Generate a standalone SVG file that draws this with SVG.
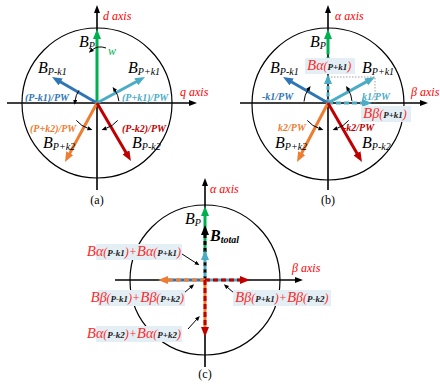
<svg xmlns="http://www.w3.org/2000/svg" width="440" height="386" viewBox="0 0 440 386">
<style>
.bg{fill:#fff}
.circ{fill:none;stroke:#000;stroke-width:1.2}
.axis{stroke:#000;stroke-width:1.6;fill:none}
.vec{stroke-width:3;fill:none}
.g{stroke:#00b050}.b{stroke:#2e75b6}.lb{stroke:#4bacc6}.o{stroke:#ed7d31}.r{stroke:#c00000}.k{stroke:#000}
.rot{stroke:#000;stroke-width:1;fill:none}
.dot{stroke:#777;stroke-width:0.7;stroke-dasharray:1.5 1.5;fill:none}
text{font-family:"Liberation Serif","Times New Roman",serif;font-style:italic}
.ax{fill:#ff0000;font-size:12px}
.B{font-size:16px;fill:#000}
.s{font-size:10px}
.rl{font-size:10px;font-weight:bold}
.cb{fill:#2e75b6}.clb{fill:#4bacc6}.co{fill:#ed7d31}.cr{fill:#c00000}.cg{fill:#00b050}
.cap{font-style:normal;font-size:12px;fill:#000;text-anchor:middle}
.hl{fill:#e3eff5}
.cl{fill:#ff2a2a}
.cB{font-size:15px}
.cG{font-size:14px}
.cP{font-size:12px}
.cS{font-size:9px;font-weight:bold;fill:#1a1a1a}
</style>
<defs>
<marker id="mg" viewBox="0 0 10 8" refX="1" refY="4" markerWidth="10" markerHeight="8" markerUnits="userSpaceOnUse" orient="auto"><path d="M0,0L10,4L0,8z" fill="#00b050"/></marker>
<marker id="mb" viewBox="0 0 10 8" refX="1" refY="4" markerWidth="10" markerHeight="8" markerUnits="userSpaceOnUse" orient="auto"><path d="M0,0L10,4L0,8z" fill="#2e75b6"/></marker>
<marker id="mlb" viewBox="0 0 10 8" refX="1" refY="4" markerWidth="10" markerHeight="8" markerUnits="userSpaceOnUse" orient="auto"><path d="M0,0L10,4L0,8z" fill="#4bacc6"/></marker>
<marker id="mo" viewBox="0 0 10 8" refX="1" refY="4" markerWidth="10" markerHeight="8" markerUnits="userSpaceOnUse" orient="auto"><path d="M0,0L10,4L0,8z" fill="#ed7d31"/></marker>
<marker id="mr" viewBox="0 0 10 8" refX="1" refY="4" markerWidth="10" markerHeight="8" markerUnits="userSpaceOnUse" orient="auto"><path d="M0,0L10,4L0,8z" fill="#c00000"/></marker>
<marker id="mk" viewBox="0 0 10 8" refX="1" refY="4" markerWidth="10" markerHeight="8" markerUnits="userSpaceOnUse" orient="auto"><path d="M0,0L10,4L0,8z" fill="#000"/></marker>
<marker id="max" viewBox="0 0 8 6" refX="1" refY="3" markerWidth="8" markerHeight="6" markerUnits="userSpaceOnUse" orient="auto"><path d="M0,0L8,3L0,6z" fill="#000"/></marker>
<marker id="msm" viewBox="0 0 6 5" refX="1" refY="2.5" markerWidth="5" markerHeight="4.5" markerUnits="userSpaceOnUse" orient="auto"><path d="M0,0L6,2.5L0,5z" fill="#000"/></marker>
</defs>
<rect class="bg" x="0" y="0" width="440" height="386"/>

<!-- ===== (a) ===== -->
<g id="diagram-a">
<circle class="circ" cx="97" cy="103" r="75"/>
<g id="a-connectors">
<line class="axis" x1="7" y1="103" x2="190" y2="103" marker-end="url(#max)"/>
<line class="axis" x1="97" y1="190" x2="97" y2="12" marker-end="url(#max)"/>
<line class="vec g" x1="97" y1="103" x2="97" y2="38" marker-end="url(#mg)"/>
<line class="vec b" x1="97" y1="103" x2="59.8" y2="81.5" marker-end="url(#mb)"/>
<line class="vec lb" x1="97" y1="103" x2="137.1" y2="81.3" marker-end="url(#mlb)"/>
<line class="vec o" x1="97" y1="103" x2="69.3" y2="154.1" marker-end="url(#mo)"/>
<line class="vec r" x1="97" y1="103" x2="126.4" y2="153.2" marker-end="url(#mr)"/>
<path class="rot" d="M106,48 Q98,45 92,50" marker-end="url(#msm)"/>
<path class="rot" d="M79.0,90.4 A22,22 0 0 0 75.1,100.7" marker-end="url(#msm)"/>
<path class="rot" d="M118.9,101.1 A22,22 0 0 0 115.0,90.4" marker-end="url(#msm)"/>
<path class="rot" d="M76.3,120.4 A27,27 0 0 0 88.5,128.6" marker-end="url(#msm)"/>
<path class="rot" d="M117.7,120.4 A27,27 0 0 1 105.5,128.6" marker-end="url(#msm)"/>
</g>
<g id="a-labels">
<text class="ax" x="103" y="20">d axis</text>
<text class="ax" x="180" y="96">q axis</text>
<text class="B" x="79" y="47">B<tspan class="s" dy="2">P</tspan></text>
<text class="cg" x="108" y="55" font-size="12">w</text>
<text class="B" x="38" y="73">B<tspan class="s" dy="2">P-k1</tspan></text>
<text class="B" x="128" y="73">B<tspan class="s" dy="2">P+k1</tspan></text>
<text class="B" x="43" y="148">B<tspan class="s" dy="2">P+k2</tspan></text>
<text class="B" x="132" y="148">B<tspan class="s" dy="2">P-k2</tspan></text>
<text class="rl cb" x="25" y="101">(P-k1)/PW</text>
<text class="rl clb" x="122" y="101">(P+k1)/PW</text>
<text class="rl co" x="30" y="132">(P+k2)/PW</text>
<text class="rl cr" x="122" y="132">(P-k2)/PW</text>
<text class="cap" x="97" y="204">(a)</text>
</g>
</g>

<!-- ===== (b) ===== -->
<g id="diagram-b">
<circle class="circ" cx="328" cy="104" r="76"/>
<g id="b-connectors">
<line class="axis" x1="240" y1="103" x2="421" y2="103" marker-end="url(#max)"/>
<line class="axis" x1="328" y1="190" x2="328" y2="12" marker-end="url(#max)"/>
<polyline class="dot" points="328,77 375,77 375,103"/>
<line class="vec g" x1="328" y1="52" x2="328" y2="38" marker-end="url(#mg)"/>
<line class="vec g" x1="328" y1="74" x2="328" y2="52" stroke-dasharray="4 2.5"/>
<line class="vec lb" x1="328" y1="103" x2="328" y2="83" stroke-dasharray="4 2.5" marker-end="url(#mlb)"/>
<line class="vec lb" x1="328" y1="103" x2="363" y2="103" stroke-dasharray="5 3" marker-end="url(#mlb)"/>
<line class="vec b" x1="328" y1="103" x2="290.8" y2="81.5" marker-end="url(#mb)"/>
<line class="vec lb" x1="328" y1="103" x2="367.1" y2="81.4" marker-end="url(#mlb)"/>
<line class="vec o" x1="328" y1="103" x2="301.2" y2="154" marker-end="url(#mo)"/>
<line class="vec r" x1="328" y1="103" x2="357.5" y2="154.2" marker-end="url(#mr)"/>
<path class="rot" d="M304.0,101.5 A24,24 0 0 1 308.2,89.5" marker-end="url(#msm)"/>
<path class="rot" d="M351.9,100.9 A24,24 0 0 0 348.2,89.5" marker-end="url(#msm)"/>
<path class="rot" d="M307.3,120.4 A27,27 0 0 0 319.5,128.6" marker-end="url(#msm)"/>
<path class="rot" d="M348.7,120.4 A27,27 0 0 1 336.5,128.6" marker-end="url(#msm)"/>
</g>
<g id="b-labels">
<text class="ax" x="335" y="20">α axis</text>
<text class="ax" x="411" y="96">β axis</text>
<text class="B" x="310" y="47">B<tspan class="s" dy="2">P</tspan></text>
<rect class="hl" x="305" y="58" width="50" height="16"/>
<text class="cl" x="307" y="70"><tspan class="cB">B</tspan><tspan class="cG">α</tspan><tspan class="cP">(</tspan><tspan class="cS">P+k1</tspan><tspan class="cP">)</tspan></text>
<text class="B" x="270" y="73">B<tspan class="s" dy="2">P-k1</tspan></text>
<text class="B" x="362" y="73">B<tspan class="s" dy="2">P+k1</tspan></text>
<text class="rl cb" x="262" y="100">-k1/PW</text>
<text class="rl clb" x="362" y="100">k1/PW</text>
<rect class="hl" x="361" y="106" width="50" height="16"/>
<text class="cl" x="363" y="118"><tspan class="cB">B</tspan><tspan class="cG">β</tspan><tspan class="cP">(</tspan><tspan class="cS">P+k1</tspan><tspan class="cP">)</tspan></text>
<text class="rl co" x="278" y="131">k2/PW</text>
<text class="rl cr" x="343" y="131">-k2/PW</text>
<text class="B" x="275" y="148">B<tspan class="s" dy="2">P+k2</tspan></text>
<text class="B" x="362" y="148">B<tspan class="s" dy="2">P-k2</tspan></text>
<text class="cap" x="328" y="204">(b)</text>
</g>
</g>

<!-- ===== (c) ===== -->
<g id="diagram-c">
<circle class="circ" cx="205" cy="280" r="75"/>
<g id="c-connectors">
<line class="axis" x1="115" y1="280" x2="296" y2="280" marker-end="url(#max)"/>
<line class="axis" x1="205" y1="367" x2="205" y2="185" marker-end="url(#max)"/>
<line class="vec g" x1="205" y1="259" x2="205" y2="215" marker-end="url(#mg)"/>
<line class="vec k" x1="205" y1="280" x2="205" y2="234" stroke-dasharray="4 3" marker-end="url(#mk)"/>
<line class="vec lb" x1="205" y1="280" x2="205" y2="259" stroke-dasharray="4 3" stroke-dashoffset="3.5" marker-end="url(#mlb)"/>
<line class="vec b" x1="205" y1="280" x2="167" y2="280"/>
<line class="vec o" x1="205" y1="280" x2="167" y2="280" stroke-dasharray="5 3" marker-end="url(#mo)"/>
<line class="vec lb" x1="205" y1="280" x2="241" y2="280"/>
<line class="vec r" x1="205" y1="280" x2="241" y2="280" stroke-dasharray="5 3" marker-end="url(#mr)"/>
<line class="vec o" x1="205" y1="280" x2="205" y2="328"/>
<line class="vec r" x1="205" y1="280" x2="205" y2="328" stroke-dasharray="5 3" marker-end="url(#mr)"/>
<line class="rot" x1="182" y1="254" x2="196" y2="263" marker-end="url(#msm)"/>
<line class="rot" x1="184" y1="293" x2="191" y2="287" marker-end="url(#msm)"/>
<line class="rot" x1="234" y1="293" x2="227" y2="287" marker-end="url(#msm)"/>
<line class="rot" x1="188" y1="329" x2="197" y2="319" marker-end="url(#msm)"/>
</g>
<g id="c-labels">
<text class="ax" x="210" y="193">α axis</text>
<text class="ax" x="292" y="272">β axis</text>
<text class="B" x="185" y="224">B<tspan class="s" dy="2">P</tspan></text>
<text class="B" x="210" y="241" font-weight="bold" font-size="17">B<tspan class="s" dy="2" font-size="11">total</tspan></text>
<rect class="hl" x="96" y="244" width="86" height="16"/>
<text class="cl" x="181" y="256" text-anchor="end"><tspan class="cB">B</tspan><tspan class="cG">α</tspan><tspan class="cP">(</tspan><tspan class="cS">P-k1</tspan><tspan class="cP">)+</tspan><tspan class="cB">B</tspan><tspan class="cG">α</tspan><tspan class="cP">(</tspan><tspan class="cS">P+k1</tspan><tspan class="cP">)</tspan></text>
<rect class="hl" x="98" y="290" width="87" height="16"/>
<text class="cl" x="184" y="302" text-anchor="end"><tspan class="cB">B</tspan><tspan class="cG">β</tspan><tspan class="cP">(</tspan><tspan class="cS">P-k1</tspan><tspan class="cP">)+</tspan><tspan class="cB">B</tspan><tspan class="cG">β</tspan><tspan class="cP">(</tspan><tspan class="cS">P+k2</tspan><tspan class="cP">)</tspan></text>
<rect class="hl" x="233" y="290" width="98" height="16"/>
<text class="cl" x="235" y="302"><tspan class="cB">B</tspan><tspan class="cG">β</tspan><tspan class="cP">(</tspan><tspan class="cS">P+k1</tspan><tspan class="cP">)+</tspan><tspan class="cB">B</tspan><tspan class="cG">β</tspan><tspan class="cP">(</tspan><tspan class="cS">P-k2</tspan><tspan class="cP">)</tspan></text>
<rect class="hl" x="96" y="326" width="86" height="16"/>
<text class="cl" x="181" y="338" text-anchor="end"><tspan class="cB">B</tspan><tspan class="cG">α</tspan><tspan class="cP">(</tspan><tspan class="cS">P-k2</tspan><tspan class="cP">)+</tspan><tspan class="cB">B</tspan><tspan class="cG">α</tspan><tspan class="cP">(</tspan><tspan class="cS">P+k2</tspan><tspan class="cP">)</tspan></text>
<text class="cap" x="205" y="378">(c)</text>
</g>
</g>
</svg>
